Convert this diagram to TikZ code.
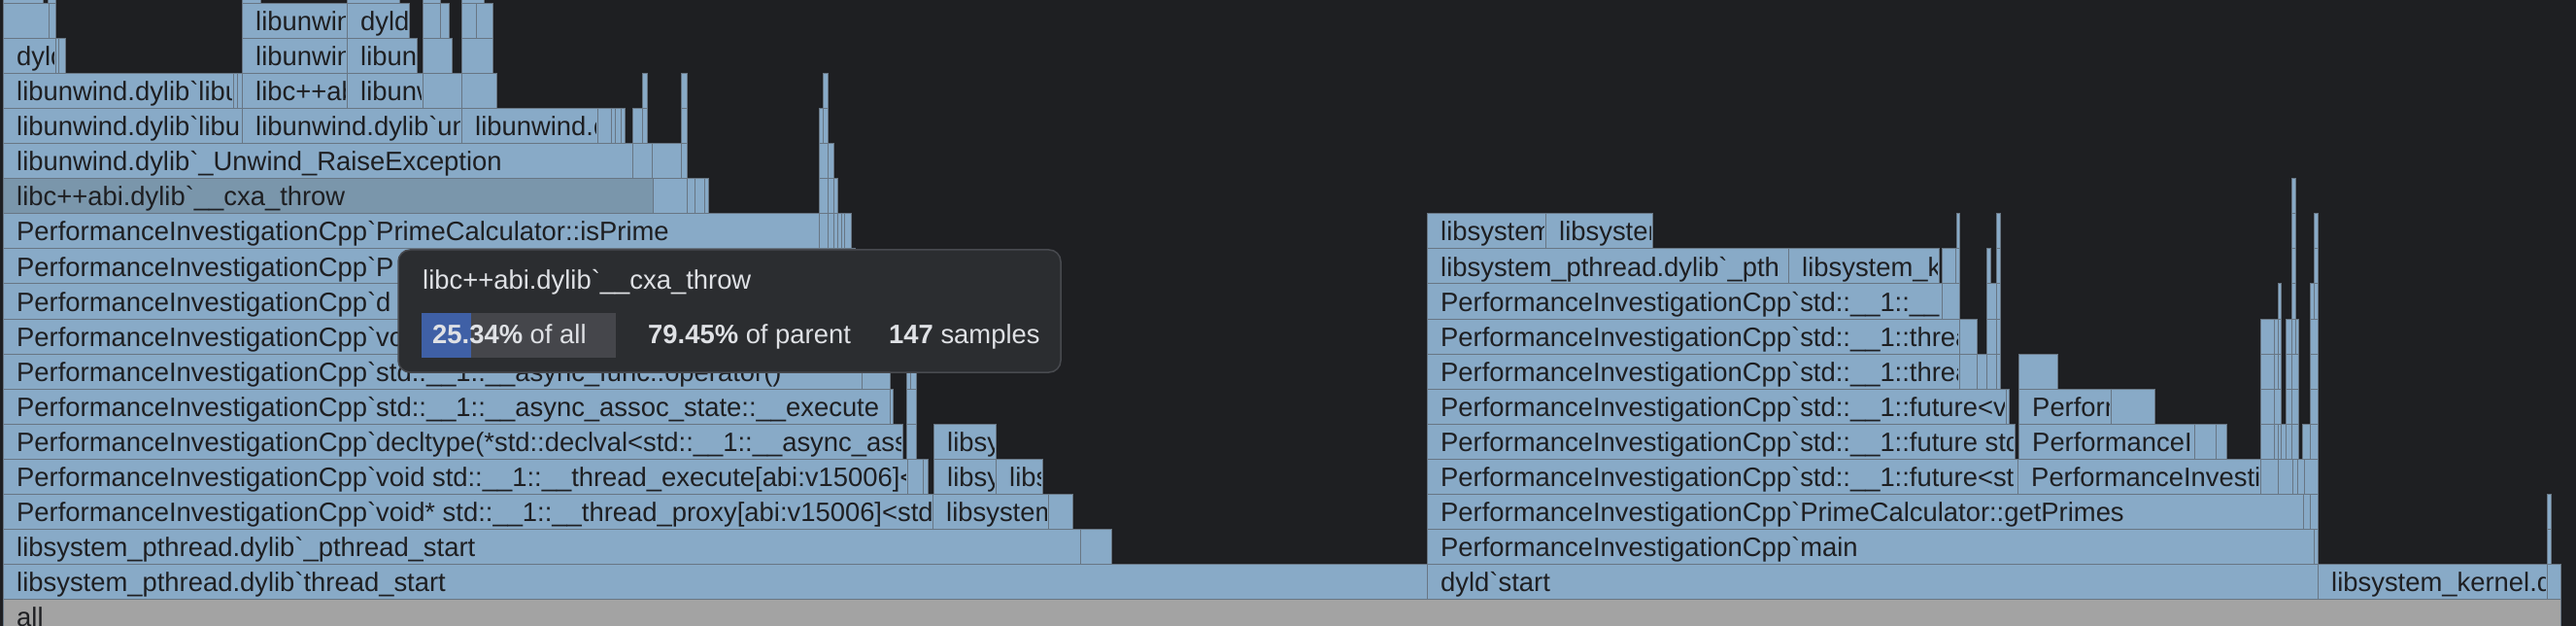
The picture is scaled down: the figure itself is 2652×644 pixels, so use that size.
\documentclass[tikz,border=0pt]{standalone}
\usepackage{fontspec}
\setmainfont{Liberation Sans}
\usetikzlibrary{positioning}

\definecolor{bgdark}{RGB}{30,31,34}
\definecolor{fblue}{RGB}{136,170,199}
\definecolor{fsel}{RGB}{122,150,171}
\definecolor{fline}{RGB}{104,118,132}
\definecolor{allgray}{RGB}{163,163,163}
\definecolor{ftext}{RGB}{30,31,34}
\definecolor{tipbg}{RGB}{43,45,48}
\definecolor{tipline}{RGB}{72,74,79}
\definecolor{tiptext}{RGB}{223,225,229}
\definecolor{barblue}{RGB}{63,96,166}
\definecolor{bargray}{RGB}{69,70,75}

\newcommand{\bq}{\textasciigrave}
% one frame of the stack: [style]{row}{left}{right}{label}
\newcommand{\frm}[5][frm]{%
  \draw[#1] (#3,{616-36*#2}) rectangle (#4,{652-36*#2});
  \begin{scope}
    \clip (#3,{616-36*#2}) rectangle ({#4-1.5},{652-36*#2});
    \node[lbl] (f#2x#3) at ({#3+14},{644-36*#2}) {#5};
  \end{scope}}
% thin frame without label
\newcommand{\slc}[3]{\draw[frm] (#2,{616-36*#1}) rectangle (#3,{652-36*#1});}

\begin{document}
\begin{tikzpicture}[x=1pt,y=-1pt]
        \tikzstyle{frm}=[fill=fblue,draw=fline,line width=1pt]
        \tikzstyle{hot}=[frm,fill=fsel]
        \tikzstyle{allrow}=[fill=allgray,draw=fline,line width=1pt]
        \tikzstyle{lbl}=[anchor=base west,inner sep=0pt,text=ftext,font=\fontsize{27.4}{32}\selectfont]
        \tikzstyle{tip}=[fill=tipbg,draw=tipline,line width=1.5pt,rounded corners=12pt]
        \tikzstyle{tiplbl}=[anchor=base west,inner sep=0pt,text=tiptext,font=\fontsize{27.4}{32}\selectfont]

        \useasboundingbox (0,0) rectangle (2652,644);
        \clip (0,0) rectangle (2652,644);
        \fill[bgdark] (0,0) rectangle (2652,644);

        % bottom rows
        \frm[allrow]{0}{3}{2636}{all}
        \frm{1}{3}{1469}{libsystem\_pthread.dylib\bq{}thread\_start}
        \frm{1}{1469}{2386}{dyld\bq{}start}
        \frm{1}{2386}{2622}{libsystem\_kernel.d}
        \frm{2}{3}{1112}{libsystem\_pthread.dylib\bq{}\_pthread\_start}
        \frm{2}{1469}{2382}{PerformanceInvestigationCpp\bq{}main}
        \frm{3}{3}{960}{PerformanceInvestigationCpp\bq{}void* std::\_\_1::\_\_thread\_proxy[abi:v15006]<std}
        \frm{3}{960}{1079}{libsystem}
        \frm{3}{1469}{2371}{PerformanceInvestigationCpp\bq{}PrimeCalculator::getPrimes}
        \frm{4}{3}{934}{PerformanceInvestigationCpp\bq{}void std::\_\_1::\_\_thread\_execute[abi:v15006]<}
        \frm{4}{961}{1025}{libsy}
        \frm{4}{1025}{1073}{libs}
        \frm{4}{1469}{2077}{PerformanceInvestigationCpp\bq{}std::\_\_1::future<st}
        \frm{4}{2077}{2327}{PerformanceInvestig}
        \frm{5}{3}{929}{PerformanceInvestigationCpp\bq{}decltype(*std::declval<std::\_\_1::\_\_async\_ass}
        \frm{5}{961}{1025}{libsy}
        \frm{5}{1469}{2074}{PerformanceInvestigationCpp\bq{}std::\_\_1::future std}
        \frm{5}{2078}{2259}{PerformanceIn}
        \frm{6}{3}{916}{PerformanceInvestigationCpp\bq{}std::\_\_1::\_\_async\_assoc\_state::\_\_execute}
        \frm{6}{1469}{2065}{PerformanceInvestigationCpp\bq{}std::\_\_1::future<v}
        \frm{6}{2078}{2173}{Perform}
        \frm{7}{3}{887}{PerformanceInvestigationCpp\bq{}std::\_\_1::\_\_async\_func::operator()}
        \frm{7}{1469}{2017}{PerformanceInvestigationCpp\bq{}std::\_\_1::threa}
        \frm{8}{3}{887}{PerformanceInvestigationCpp\bq{}vo}
        \frm{8}{1469}{2017}{PerformanceInvestigationCpp\bq{}std::\_\_1::threa}
        \frm{9}{3}{884}{PerformanceInvestigationCpp\bq{}d}
        \frm{9}{1469}{1999}{PerformanceInvestigationCpp\bq{}std::\_\_1::\_\_li}
        \frm{10}{3}{880}{PerformanceInvestigationCpp\bq{}P}
        \frm{10}{1469}{1841}{libsystem\_pthread.dylib\bq{}\_pth}
        \frm{10}{1841}{1996}{libsystem\_k}
        \frm{11}{3}{843}{PerformanceInvestigationCpp\bq{}PrimeCalculator::isPrime}
        \frm{11}{1469}{1591}{libsystem}
        \frm{11}{1591}{1701}{libsystem}

        % upper rows
        \frm[hot]{12}{3}{672}{libc++abi.dylib\bq{}\_\_cxa\_throw}
        \frm{13}{3}{651}{libunwind.dylib\bq{}\_Unwind\_RaiseException}
        \frm{14}{3}{249}{libunwind.dylib\bq{}libu}
        \frm{14}{249}{475}{libunwind.dylib\bq{}un}
        \frm{14}{475}{615}{libunwind.d}
        \frm{15}{3}{240}{libunwind.dylib\bq{}libu}
        \frm{15}{249}{357}{libc++ab}
        \frm{15}{357}{435}{libunw}
        \frm{16}{3}{57}{dyld}
        \frm{16}{249}{357}{libunwin}
        \frm{16}{357}{429}{libun}
        \frm{17}{249}{357}{libunwin}
        \frm{17}{357}{421}{dyld\bq{}}

        % thin frames, left stack
        \foreach \r/\a/\b in {1/2622/2636, 2/1112/1144, 3/1079/1104, 4/934/950, 4/950/955,
            5/933/943, 6/916/919, 6/933/943, 7/887/916, 7/933/937, 7/937/943,
            11/843/852, 11/852/858, 11/858/862, 11/862/866, 11/866/869, 11/869/876,
            12/672/707, 12/707/715, 12/715/725, 12/725/729, 12/843/852, 12/852/858, 12/858/862,
            13/651/671, 13/671/701, 13/701/707, 13/843/852, 13/852/858,
            14/615/629, 14/629/633, 14/633/639, 14/639/643, 14/651/661, 14/661/666,
            14/701/707, 14/843/847, 14/847/852,
            15/240/244, 15/244/249, 15/435/475, 15/475/511, 15/661/666, 15/701/707, 15/847/852,
            16/57/60, 16/60/67, 16/435/465, 16/475/507,
            17/3/50, 17/50/57, 17/435/453, 17/453/462, 17/475/490, 17/490/507,
            18/3/44, 18/49/57, 18/249/268, 18/357/411, 18/435/453, 18/475/498}
            {\slc{\r}{\a}{\b}}

        % thin frames, right stack
        \foreach \r/\a/\b in {2/2382/2386, 2/2622/2626, 3/2371/2378, 3/2378/2386, 3/2622/2626,
            4/2327/2345, 4/2345/2360, 4/2360/2365, 4/2365/2372, 4/2372/2386,
            5/2259/2281, 5/2281/2292, 5/2327/2341, 5/2341/2345, 5/2345/2348, 5/2348/2353,
            5/2353/2359, 5/2359/2366, 5/2370/2378, 5/2378/2386,
            6/2065/2068, 6/2173/2218, 6/2327/2341, 6/2341/2348, 6/2353/2359, 6/2359/2366, 6/2378/2386,
            7/2017/2035, 7/2035/2045, 7/2045/2055, 7/2055/2059, 7/2078/2118,
            7/2327/2341, 7/2341/2345, 7/2345/2348, 7/2353/2359, 7/2359/2366, 7/2378/2386,
            8/2017/2035, 8/2045/2055, 8/2055/2059, 8/2327/2341, 8/2341/2345, 8/2345/2348,
            8/2353/2359, 8/2359/2363, 8/2363/2366, 8/2378/2386,
            9/1999/2017, 9/2045/2055, 9/2055/2059, 9/2345/2348, 9/2359/2363, 9/2378/2382, 9/2382/2386,
            10/1999/2013, 10/2013/2017, 10/2045/2049, 10/2055/2059, 10/2359/2363, 10/2382/2386,
            11/2014/2017, 11/2055/2059, 11/2359/2363, 11/2382/2386,
            12/2359/2363}
            {\slc{\r}{\a}{\b}}

        % tooltip
        \draw[tip] (410,257) rectangle (1092,383);
        \fill[bargray] (434,322) rectangle (634,368);
        \fill[barblue] (434,322) rectangle (485,368);
        \node[tiplbl] (ttl)  at (435,298) {libc++abi.dylib\bq{}\_\_cxa\_throw};
        \node[tiplbl] (pall) at (445,353) {{\bfseries 25.34\%} of all};
        \node[tiplbl] (ppar) at (667,353) {{\bfseries 79.45\%} of parent};
        \node[tiplbl] (psmp) at (915,353) {{\bfseries 147} samples};
\end{tikzpicture}
\end{document}
